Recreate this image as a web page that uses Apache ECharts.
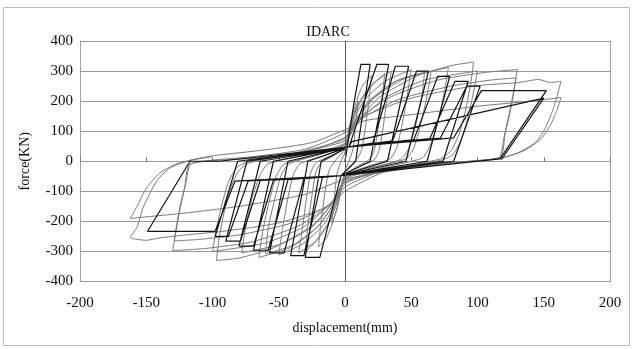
<!DOCTYPE html>
<html>
<head>
<meta charset="utf-8">
<script src="https://cdn.jsdelivr.net/npm/echarts@6/dist/echarts.min.js"></script>
<style>html,body{margin:0;padding:0;background:#fff;}#c{width:633px;height:349px;}</style>
</head>
<body>
<div id="c"></div>
<script>
// ---- data (displacement in mm, force in kN) ----
const chartTitle = 'IDARC';
const xName = 'displacement(mm)';
const yName = 'force(KN)';
const xTicks = [-200, -150, -100, -50, 0, 50, 100, 150, 200];
const yTicks = [-400, -300, -200, -100, 0, 100, 200, 300, 400];

// IDARC analytical model (black polygonal hysteresis)
const modelDisp = [0,7,12,19,8,-3,-19,-30,-18,3,24,33,19,-3,-17,-31,-41,-28,3,21,38,48,32,-3,-31,-46,-57,-43,3,36,54,63,46,-3,-43,-58,-69,-54,3,52,70,79,62,-3,-54,-69,-80,-64,3,64,83,93,74,-3,-64,-79,-90,-74,3,72,92,102,82,-3,-73,-88,-98,-81,3,82,103,152,117,-3,-83,-98,-149,-117,-95,3,5,150,118];
const modelForce = [0,200,322,322,0,-48,-320,-320,0,48,322,322,0,-48,-54,-314,-314,0,48,60,316,316,0,-48,-58,-305,-305,0,48,68,300,300,0,-48,-61,-296,-296,0,48,72,282,282,0,-48,-63,-282,-282,0,48,75,266,266,0,-48,-64,-266,-266,0,48,77,250,250,0,-48,-65,-250,-250,0,48,78,235,235,8,-48,-66,-233,-233,0,0,48,65,210,5];

// Experimental test (grey curved hysteresis)
const testDisp = [0,3,6,10,8,6,3,0,-3,-6,-10,-8,-6,-3,0,
 3,8,13,20,18,15,12,6,0,-4,-9,-14,-20,-18,-15,-12,-6,0,
 4,12,22,30,28,25,22,18,8,0,-5,-12,-22,-30,-28,-25,-22,-18,-8,0,
 4,10,20,35,32,29,26,22,10,0,-5,-12,-22,-35,-32,-29,-26,-22,-10,0,
 5,14,30,50,47,43,39,34,15,0,-6,-16,-32,-50,-47,-43,-39,-34,-15,0,
 6,20,40,60,58,53,48,42,18,0,-7,-20,-40,-60,-58,-53,-48,-42,-18,0,
 6,18,38,65,62,57,52,46,20,0,-7,-20,-40,-65,-62,-57,-52,-46,-20,0,
 7,22,45,78,75,70,64,58,25,0,-8,-24,-48,-78,-75,-70,-64,-58,-25,0,
 8,25,55,80,97,95,91,86,80,72,35,0,-8,-25,-55,-80,-97,-95,-91,-86,-80,-72,-35,0,
 10,30,60,100,97,93,88,82,74,35,0,-10,-30,-60,-100,-97,-93,-88,-82,-74,-35,0,
 10,35,70,105,130,128,125,121,117,70,30,0,-10,-35,-70,-105,-130,-128,-125,-121,-117,-70,-30,0,
 12,40,80,110,129,127,124,120,116,70,30,0,-12,-40,-80,-110,-129,-127,-124,-120,-116,-70,-30,0,
 15,50,97,131,146,155,163,160,156,150,143,130,117,70,30,0,-15,-50,-90,-120,-140,-150,-162,-157,-152,-142,-132,-117,-100,-60,-25,0,
 15,50,100,140,163,160,155,148,135,117,60,0,-30,-80,-120,-162,-157,-150,-140,-128,-117,-100];
const testForce = [0,80,150,200,120,40,0,-30,-90,-160,-205,-120,-40,0,30,
 110,190,250,285,200,100,30,-10,-40,-120,-200,-255,-285,-200,-100,-30,10,40,
 120,200,260,292,210,110,35,5,-20,-48,-125,-205,-268,-300,-215,-115,-35,-5,20,48,
 110,190,255,300,220,120,40,5,-20,-45,-120,-200,-265,-305,-220,-120,-40,-5,20,45,
 120,200,265,305,220,120,45,8,-20,-50,-125,-210,-275,-312,-220,-120,-45,-8,20,50,
 125,205,270,296,215,115,42,6,-24,-58,-130,-215,-280,-308,-225,-125,-45,-8,24,58,
 120,200,265,300,220,120,45,8,-22,-55,-130,-215,-285,-320,-230,-130,-50,-10,22,55,
 125,210,275,312,230,130,50,10,-25,-60,-130,-215,-275,-305,-220,-120,-45,-8,25,60,
 120,210,285,318,330,260,170,90,35,8,-25,-65,-130,-215,-290,-322,-330,-255,-165,-85,-30,-5,28,68,
 130,210,270,300,230,150,75,25,5,-28,-70,-135,-215,-272,-300,-225,-145,-70,-22,-3,30,75,
 140,215,270,295,305,250,180,100,13,-5,-25,-75,-140,-215,-268,-290,-297,-245,-170,-90,-10,10,30,80,
 140,205,250,270,277,220,150,80,12,-8,-30,-85,-145,-205,-245,-260,-265,-210,-140,-70,-8,15,40,95,
 150,210,250,262,272,262,266,215,160,100,60,27,10,-10,-35,-100,-155,-205,-232,-245,-255,-263,-253,-220,-150,-65,-22,3,18,38,62,105,
 135,155,183,200,212,170,120,75,35,10,-15,-60,-110,-150,-172,-190,-150,-90,-40,-10,3,15];

const zip = (a, b) => a.map((v, i) => [v, b[i]]);

const serif = '"Liberation Serif","Times New Roman",serif';
const chart = echarts.init(document.getElementById('c'), null, {renderer: 'canvas'});
chart.setOption({
  backgroundColor: '#fff',
  animation: false,
  title: {
    text: chartTitle, left: 323, top: 20, textAlign: 'center',
    textStyle: {fontFamily: serif, fontSize: 14, fontWeight: 'normal', color: '#111'}
  },
  graphic: [{
    type: 'rect', shape: {x: 3.5, y: 7.5, width: 626, height: 338},
    style: {fill: 'none', stroke: '#bbb', lineWidth: 1}, silent: true, z: -1
  }],
  grid: {left: 80, right: 23, top: 41, bottom: 67.5},
  xAxis: [{
    type: 'value', min: xTicks[0], max: xTicks[xTicks.length - 1], interval: 50,
    position: 'bottom',
    name: xName, nameLocation: 'middle', nameGap: 40,
    nameTextStyle: {fontFamily: serif, fontSize: 14, color: '#111'},
    axisLine: {onZero: false, lineStyle: {color: '#999', type: 'dotted'}},
    axisTick: {show: false},
    axisLabel: {fontFamily: serif, fontSize: 15, color: '#111', margin: 14},
    splitLine: {show: false}
  }, {
    type: 'value', min: xTicks[0], max: xTicks[xTicks.length - 1], interval: 50,
    position: 'top',
    axisLine: {show: false, onZero: true},
    axisTick: {show: true, inside: false, length: 4, lineStyle: {color: '#777'}},
    axisLabel: {show: false},
    splitLine: {show: false}
  }],
  yAxis: [{
    type: 'value', min: yTicks[0], max: yTicks[yTicks.length - 1], interval: 100,
    position: 'left',
    name: yName, nameLocation: 'middle', nameGap: 48,
    nameTextStyle: {fontFamily: serif, fontSize: 14, color: '#111'},
    axisLine: {show: true, onZero: false, lineStyle: {color: '#999', type: 'dotted'}},
    axisTick: {show: false},
    axisLabel: {fontFamily: serif, fontSize: 15, color: '#111', margin: 7},
    splitLine: {show: true, lineStyle: {color: '#999', width: 1}}
  }, {
    type: 'value', min: yTicks[0], max: yTicks[yTicks.length - 1], interval: 100,
    position: 'right',
    axisLine: {show: true, onZero: false, lineStyle: {color: '#999', type: 'dotted'}},
    axisTick: {show: false}, axisLabel: {show: false}, splitLine: {show: false}
  }],
  series: [{
    type: 'line', name: 'test', data: zip(testDisp, testForce),
    showSymbol: false, smooth: 0.2, clip: true,
    lineStyle: {color: '#7a7a7a', width: 1}
  }, {
    type: 'line', name: 'IDARC', data: zip(modelDisp, modelForce),
    showSymbol: false, smooth: false, clip: true,
    lineStyle: {color: '#141414', width: 1.2},
    markLine: {
      silent: true, symbol: 'none', label: {show: false},
      lineStyle: {color: '#555', width: 1, type: 'solid'},
      data: [{xAxis: 0}]
    }
  }]
});
</script>
</body>
</html>
